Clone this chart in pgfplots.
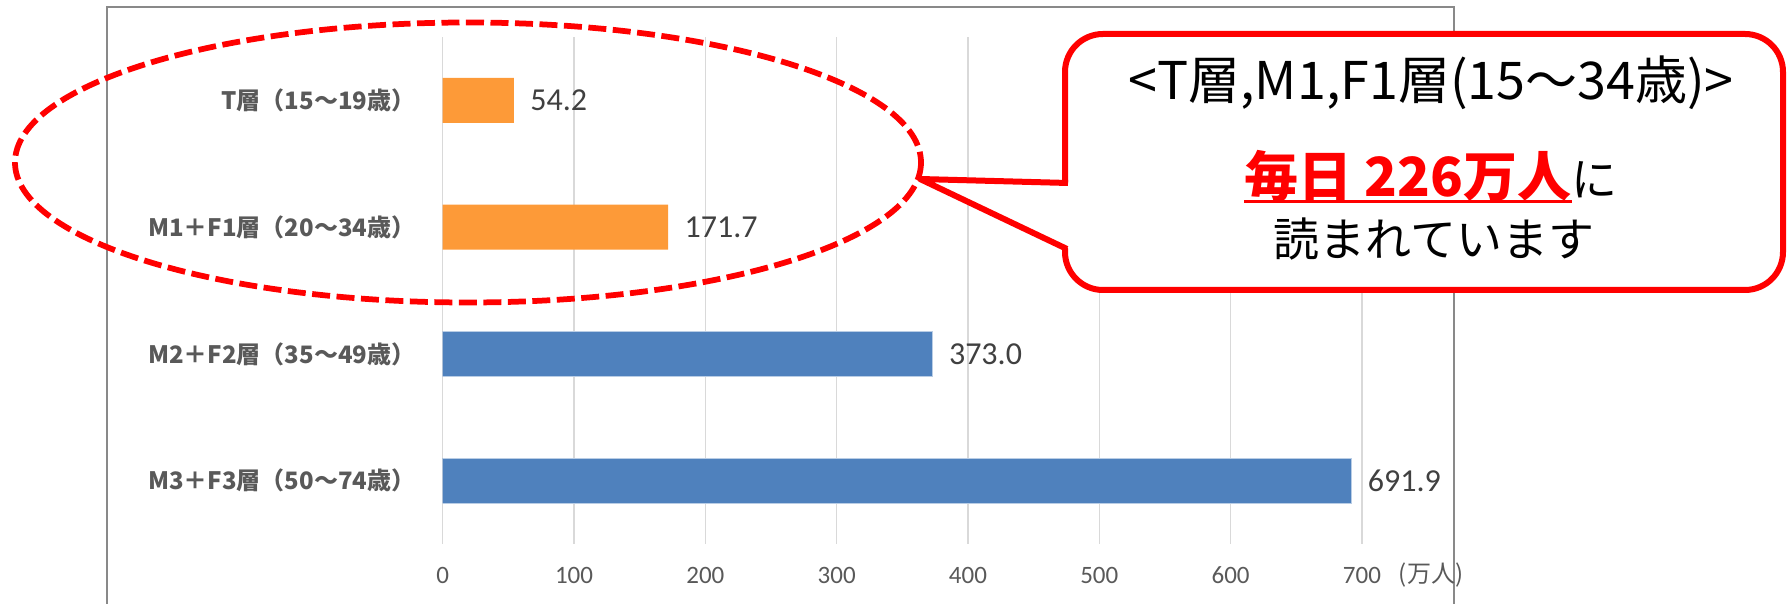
\documentclass[border=0pt]{standalone}
\usepackage{fontspec}
\setmainfont{Carlito}
\newfontfamily\cjk{Noto Sans CJK JP}
\usepackage{pgfplots}
\pgfplotsset{compat=1.18}
\usepackage{pgfplotstable}

\definecolor{barorange}{RGB}{253,154,56}
\definecolor{barblue}{RGB}{79,129,189}
\definecolor{bluedge}{RGB}{185,205,229}
\definecolor{gridgray}{RGB}{217,217,217}
\definecolor{labgray}{RGB}{89,89,89}
\definecolor{valgray}{RGB}{64,64,64}
\definecolor{framegray}{RGB}{137,137,137}
\definecolor{callred}{RGB}{255,0,0}

\newsavebox\ulbox
\newcommand\ul[1]{\sbox\ulbox{#1}\rlap{\rule[-2.6pt]{\wd\ulbox}{1.2pt}}\usebox\ulbox}

% readers per day (10k people)
\pgfplotstableread{
val pos
54.2 0
171.7 1
}\young
\pgfplotstableread{
val pos
373.0 2
691.9 3
}\old

\begin{document}
\begin{tikzpicture}
% 1 px of the reference = 0.4pt
\begin{scope}[x=0.4pt,y=-0.4pt]
\useasboundingbox (0,0) rectangle (1788,604);
\draw[framegray, line width=0.8pt] (107,615) -- (107,7) -- (1454,7) -- (1454,615);
\end{scope}

\begin{axis}[
  at={(177.08pt,-217.6pt)}, anchor=south west,
  scale only axis, width=367.7pt, height=202.8pt,
  xmin=0, xmax=700, ymin=-0.5, ymax=3.5, y dir=reverse,
  xbar, bar width=18pt,
  axis line style={draw=none}, major tick length=0pt,
  xtick={0,100,...,700}, ytick={0,1,2,3},
  yticklabels={T層（15～19歳）,M1＋F1層（20～34歳）,M2＋F2層（35～49歳）,M3＋F3層（50～74歳）},
  xmajorgrids, grid style={gridgray, line width=0.6pt},
  /pgf/number format/assume math mode=true,
  xticklabel style={font=\fontsize{10}{12}\selectfont, text=labgray, anchor=center, yshift=-12.4pt},
  yticklabel style={font=\cjk\bfseries\fontsize{9.6}{11}\selectfont, text=labgray, anchor=east, inner sep=0pt, xshift=-10.7pt},
  point meta=x,
  nodes near coords,
  nodes near coords style={font=\fontsize{12.8}{14}\selectfont, text=valgray, anchor=west, inner sep=0pt, xshift=6.4pt,
    /pgf/number format/fixed zerofill, /pgf/number format/precision=1},
]
\addplot[fill=barorange, draw=none, bar shift=0pt] table[x=val,y=pos]{\young};
\addplot[fill=barblue, draw=bluedge, line width=0.4pt, bar shift=0pt] table[x=val,y=pos]{\old};
\end{axis}

\begin{scope}[x=0.4pt,y=-0.4pt]
\node[font=\cjk\fontsize{9.6}{11}\selectfont, text=labgray] at (1431,575) {(万人)};
% dashed ellipse round the young groups
\draw[callred, line width=2.3pt, dash pattern=on 7.2pt off 2.6pt] (468,162.5) ellipse [x radius=453, y radius=140];
% callout
\draw[callred, line width=2.4pt, fill=white, rounded corners=15.2pt] (1065,34) rectangle (1783,290);
\fill[white] (924,179) -- (1070,182) -- (1070,249) -- cycle;
\draw[callred, line width=2.4pt, line join=round] (1068,183) -- (920,179) -- (1067,249);
\node[anchor=base, font=\cjk\fontsize{20.8}{24}\selectfont] at (1431,100) {<T層,M1,F1層(15～34歳)>};
\node[anchor=base, font=\cjk\fontsize{18.4}{22}\selectfont] at (1431,197)
  {\textcolor{callred}{\ul{\fontsize{21.6}{24}\selectfont\bfseries 毎日 226万人}}に};
\node[anchor=base, font=\cjk\fontsize{18.4}{22}\selectfont] at (1434,257) {読まれています};
\end{scope}
\end{tikzpicture}
\end{document}
